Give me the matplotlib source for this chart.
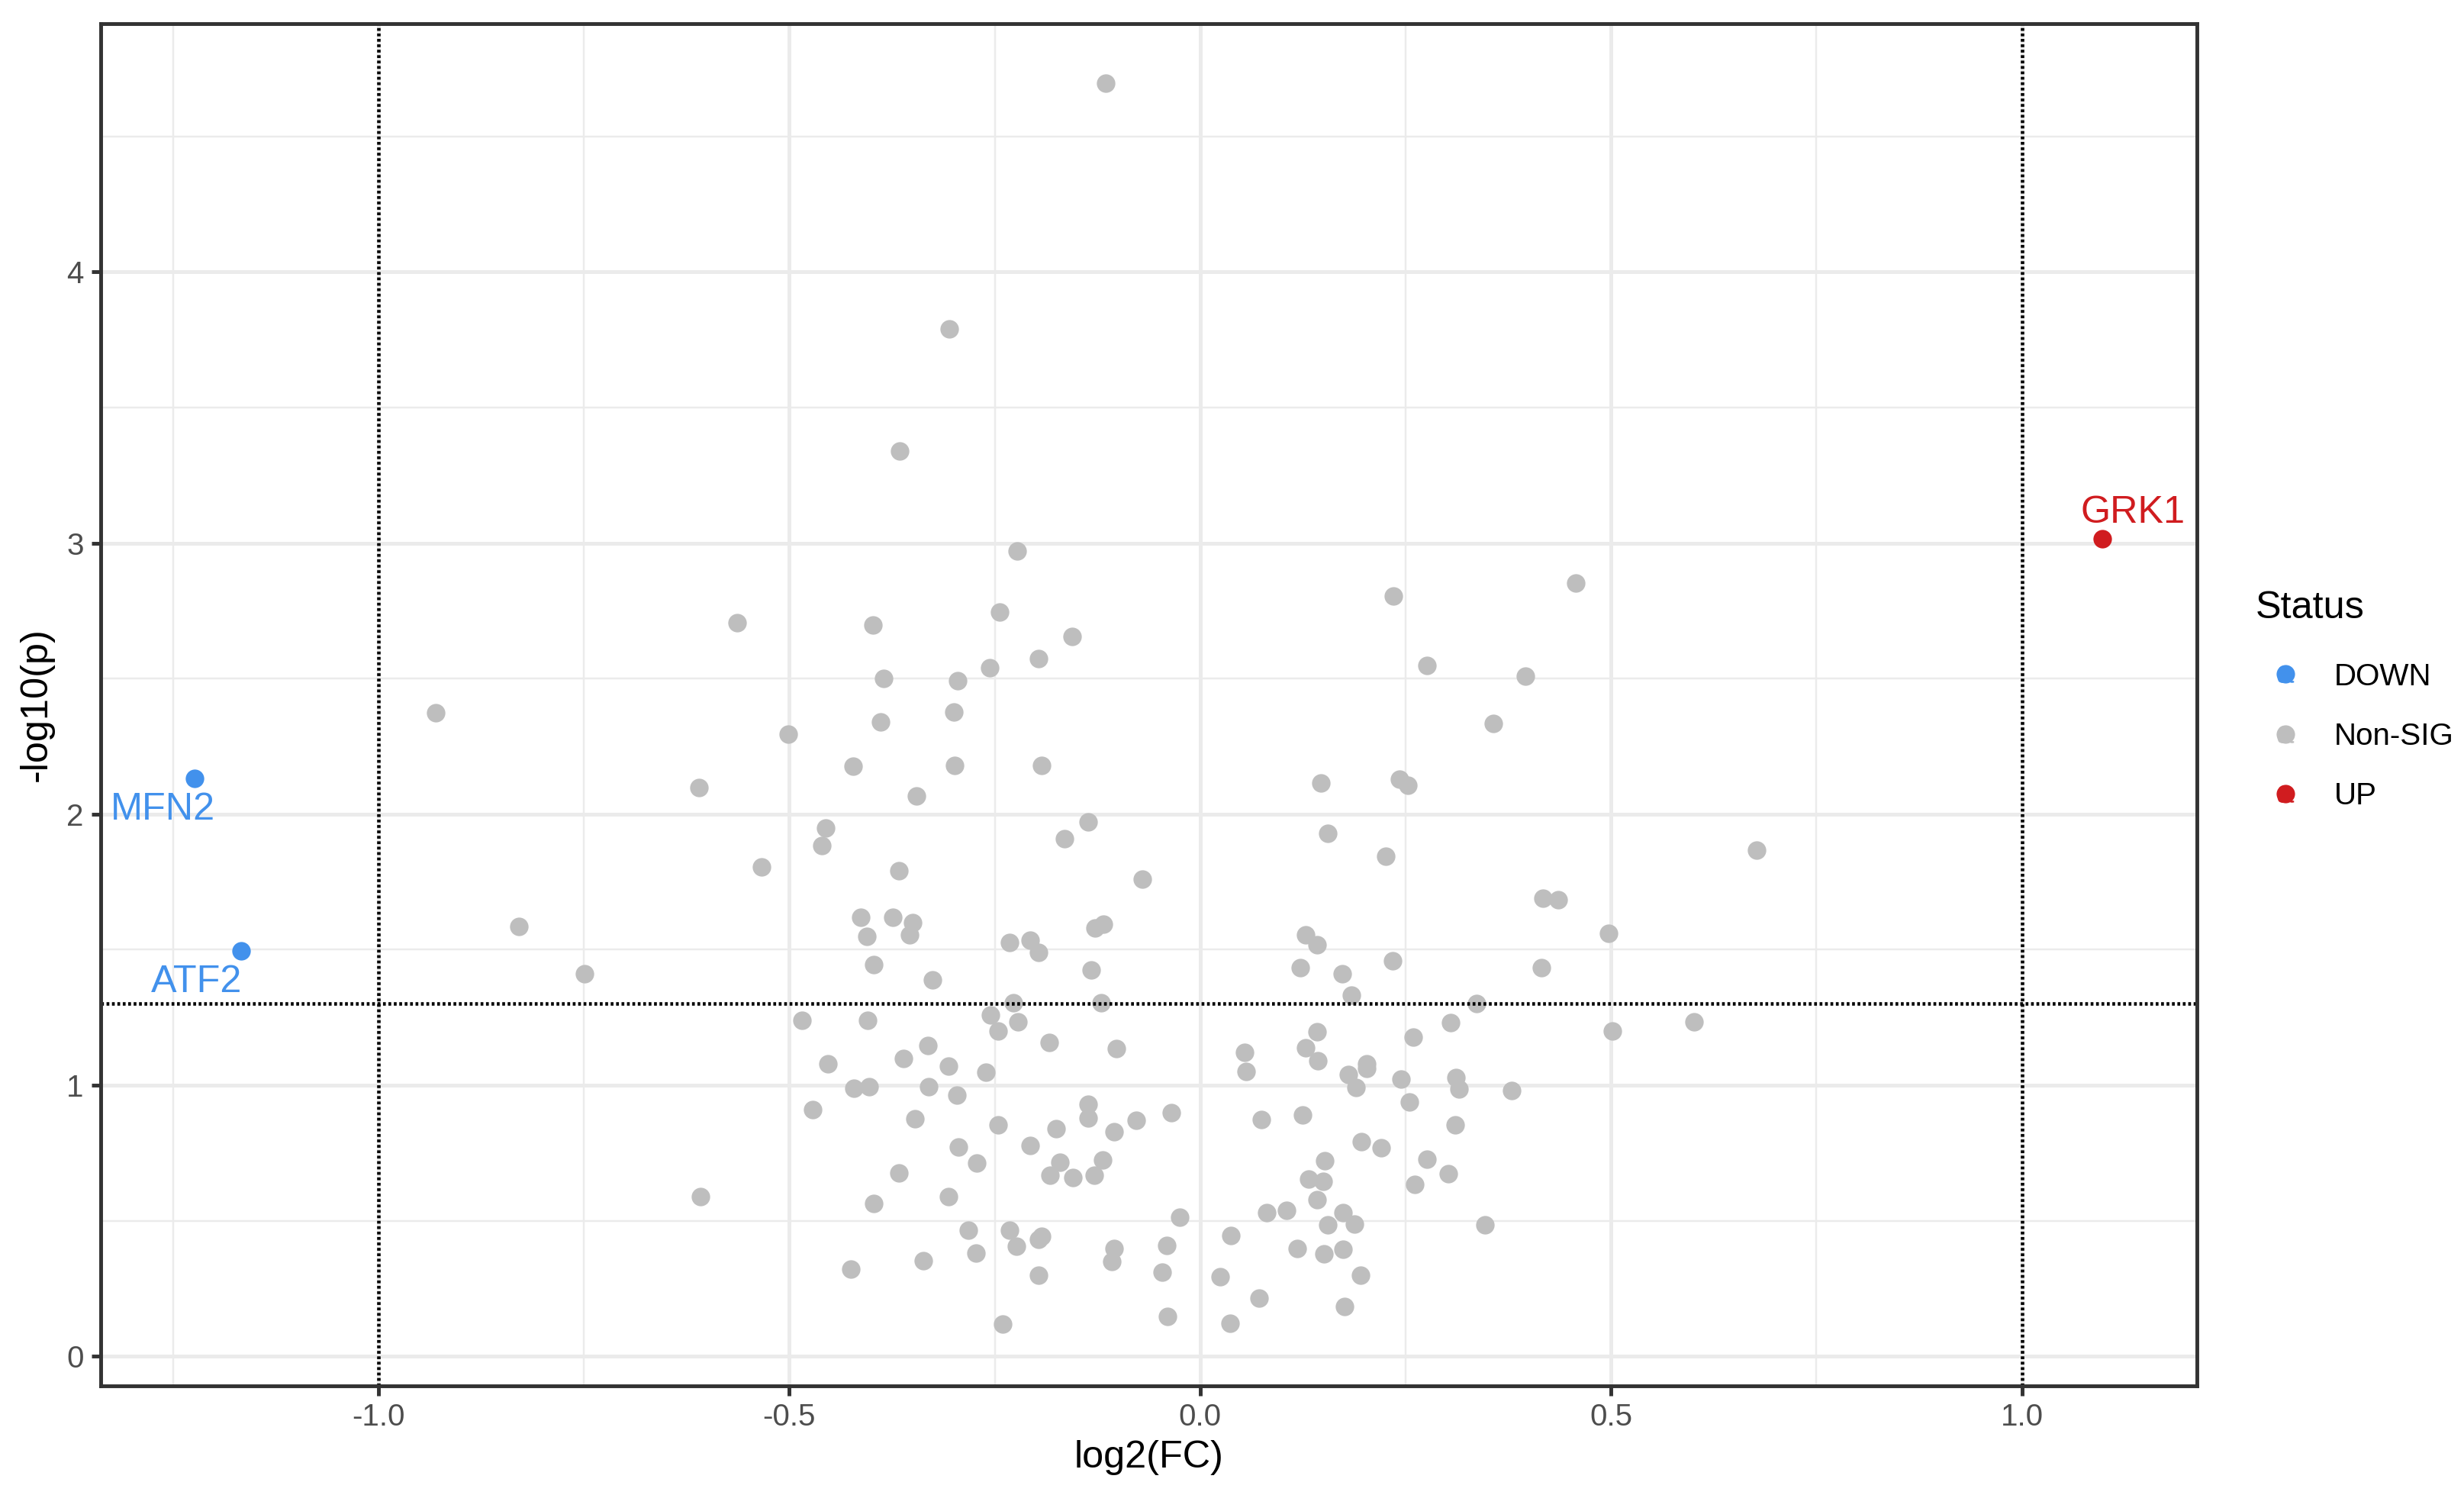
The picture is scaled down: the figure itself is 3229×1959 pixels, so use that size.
import matplotlib
matplotlib.use('Agg')
import matplotlib.pyplot as plt
from matplotlib.lines import Line2D
from matplotlib.legend_handler import HandlerTuple
from matplotlib.ticker import MultipleLocator

plt.rcParams['font.family'] = ['Liberation Sans', 'DejaVu Sans']

# non-significant genes (log2FC, -log10 p)
grey_fc = [
    -0.305, -0.366, -0.223, -0.564, -0.398, -0.244, -0.156, -0.197, -0.256, -0.385,
    -0.295, -0.300, -0.389, -0.501, -0.422, -0.299, -0.193, -0.610, -0.345, -0.115,
    0.235, 0.457, 0.276, 0.396, 0.357, 0.147, 0.243, 0.253,
    -0.930, -0.829, -0.749, 0.677,
    -0.456, -0.460, -0.534, -0.367, -0.136, -0.165, -0.070, -0.413, -0.374, -0.350,
    -0.406, -0.354, -0.128, -0.118, -0.232, -0.207, -0.197, -0.397, -0.133, -0.326,
    -0.227, -0.121, -0.255, -0.246, -0.222, -0.485, -0.405, -0.184, -0.102, -0.331,
    -0.361, -0.306, -0.261, -0.453, -0.421, -0.403, -0.330, -0.296, -0.472, -0.347,
    -0.246, -0.136, -0.136, -0.175, -0.078, -0.035, -0.105, -0.294, -0.207, -0.272,
    -0.171, -0.119, -0.183, -0.155, -0.129, -0.367, -0.608, -0.397, -0.306, -0.025,
    -0.282, -0.232, -0.224, -0.197, -0.193, -0.105, -0.108, -0.041, -0.046, -0.273,
    -0.337, -0.425, -0.197, -0.240, -0.040,
    0.155, 0.226, 0.417, 0.436, 0.497, 0.128, 0.142, 0.122, 0.234, 0.173,
    0.415, 0.184, 0.336, 0.305, 0.601, 0.502, 0.142, 0.259, 0.054, 0.056,
    0.128, 0.143, 0.180, 0.203, 0.203, 0.190, 0.244, 0.311, 0.315, 0.379,
    0.255, 0.074, 0.125, 0.310, 0.196, 0.220, 0.276, 0.152, 0.132, 0.150,
    0.302, 0.261, 0.142, 0.081, 0.105, 0.174, 0.155, 0.188, 0.347, 0.037,
    0.118, 0.151, 0.174, 0.024, 0.195, 0.072, 0.176, 0.036,
]
grey_p = [
    3.790, 3.340, 2.970, 2.705, 2.698, 2.745, 2.656, 2.573, 2.541, 2.500,
    2.492, 2.377, 2.339, 2.294, 2.178, 2.181, 2.181, 2.099, 2.068, 4.696,
    2.804, 2.853, 2.549, 2.510, 2.335, 2.114, 2.128, 2.106,
    2.373, 1.586, 1.411, 1.867,
    1.950, 1.884, 1.806, 1.790, 1.970, 1.910, 1.760, 1.620, 1.620, 1.600,
    1.550, 1.556, 1.580, 1.595, 1.526, 1.536, 1.490, 1.446, 1.424, 1.390,
    1.305, 1.304, 1.260, 1.200, 1.234, 1.240, 1.240, 1.159, 1.134, 1.147,
    1.100, 1.070, 1.049, 1.078, 0.990, 0.994, 0.994, 0.963, 0.910, 0.875,
    0.855, 0.930, 0.880, 0.841, 0.871, 0.900, 0.828, 0.773, 0.778, 0.713,
    0.715, 0.723, 0.668, 0.659, 0.669, 0.675, 0.590, 0.565, 0.588, 0.514,
    0.465, 0.466, 0.406, 0.431, 0.444, 0.398, 0.351, 0.410, 0.310, 0.380,
    0.354, 0.321, 0.298, 0.120, 0.148,
    1.928, 1.846, 1.690, 1.683, 1.559, 1.555, 1.519, 1.435, 1.460, 1.410,
    1.433, 1.333, 1.300, 1.231, 1.235, 1.200, 1.196, 1.178, 1.120, 1.051,
    1.139, 1.089, 1.040, 1.079, 1.063, 0.991, 1.023, 1.029, 0.986, 0.980,
    0.939, 0.874, 0.889, 0.854, 0.791, 0.769, 0.728, 0.721, 0.653, 0.646,
    0.673, 0.633, 0.579, 0.531, 0.538, 0.531, 0.484, 0.488, 0.486, 0.445,
    0.398, 0.379, 0.395, 0.294, 0.299, 0.215, 0.183, 0.123,
]

down_genes = ['MFN2', 'ATF2']
down_fc = [-1.224, -1.167]
down_p = [2.132, 1.496]

up_genes = ['GRK1']
up_fc = [1.098]
up_p = [3.016]

statuses = ['DOWN', 'Non-SIG', 'UP']
colors = {'DOWN': '#4291EC', 'Non-SIG': '#BEBEBE', 'UP': '#D01C1F'}

fc_cut = 1.0
p_cut = 1.301

# ggplot sizes scaled up a bit to match the picture
lw = 1.18
fs_small = 9.7
fs_big = 12.1

fig = plt.figure(figsize=(3229 / 300, 1959 / 300), dpi=300)
ax = fig.add_axes([0.0409, 0.0730, 0.8507, 0.9112])

ax.set_xlim(-1.338, 1.213)
ax.set_ylim(-0.109, 4.916)

# theme_bw style grid
ax.xaxis.set_major_locator(MultipleLocator(0.5))
ax.xaxis.set_minor_locator(MultipleLocator(0.25))
ax.yaxis.set_major_locator(MultipleLocator(1))
ax.yaxis.set_minor_locator(MultipleLocator(0.5))
ax.grid(which='major', color='#EBEBEB', linewidth=lw)
ax.grid(which='minor', color='#EBEBEB', linewidth=lw / 2)
ax.set_axisbelow(True)
ax.tick_params(which='minor', length=0)
ax.tick_params(which='major', length=3.0, width=lw, color='#333333',
               labelcolor='#4D4D4D', labelsize=fs_small, pad=2.4)
ax.xaxis.set_major_formatter(lambda v, _: f'{v:.1f}')
ax.yaxis.set_major_formatter(lambda v, _: f'{v:.0f}')
for spine in ax.spines.values():
    spine.set_color('#333333')
    spine.set_linewidth(lw)

ax.scatter(grey_fc, grey_p, s=34, color=colors['Non-SIG'], linewidths=0, zorder=2)
ax.scatter(down_fc, down_p, s=34, color=colors['DOWN'], linewidths=0, zorder=3)
ax.scatter(up_fc, up_p, s=34, color=colors['UP'], linewidths=0, zorder=3)

# thresholds (R "dotted")
dot = (0, (0.8, 0.75))
for xv in (-fc_cut, fc_cut):
    ax.axvline(xv, color='black', linewidth=1.1, linestyle=dot, zorder=2.5)
ax.axhline(p_cut, color='black', linewidth=1.1, linestyle=dot, zorder=2.5)

# gene labels
label_pos = {'MFN2': (-1.262, 2.015), 'ATF2': (-1.221, 1.38), 'GRK1': (1.135, 3.112)}
for g in down_genes:
    lx, ly = label_pos[g]
    ax.text(lx, ly, g, color=colors['DOWN'], fontsize=fs_big, ha='center', va='center')
for g in up_genes:
    lx, ly = label_pos[g]
    ax.text(lx, ly, g, color=colors['UP'], fontsize=fs_big, ha='center', va='center')

ax.set_xlabel('log2(FC)', fontsize=fs_big, labelpad=2.5)
ax.set_ylabel('-log10(p)', fontsize=fs_big, labelpad=4)

# legend (point + "a" key like ggrepel)
handles = []
for st in statuses:
    pt = Line2D([], [], linestyle='none', marker='o', markersize=5.8,
                markerfacecolor=colors[st], markeredgewidth=0)
    letter = Line2D([], [], linestyle='none', marker=r'$\mathregular{a}$', markersize=5.5,
                    color=colors[st], markeredgewidth=0)
    handles.append((pt, letter))
leg = fig.legend(handles, statuses, title='Status', loc='upper left',
                 bbox_to_anchor=(0.9155, 0.6049), frameon=False, fontsize=fs_small,
                 title_fontsize=fs_big, handler_map={tuple: HandlerTuple(ndivide=1)},
                 handlelength=1.93, handletextpad=0.62, labelspacing=1.0,
                 borderpad=0, borderaxespad=0, alignment='left')
leg._legend_box.sep += 1.7

fig.savefig('out.png', dpi=300)
